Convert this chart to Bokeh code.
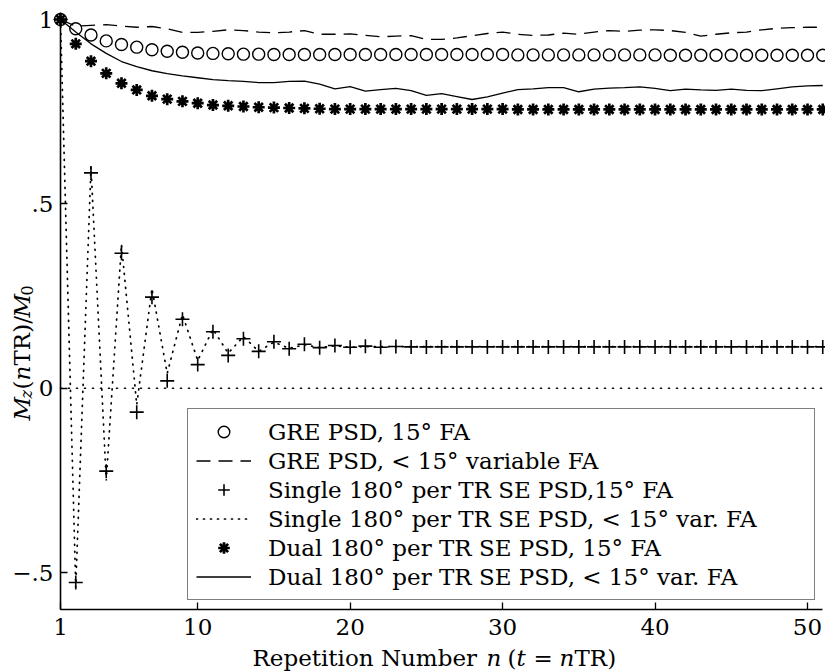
import math
from bokeh.plotting import figure
from bokeh.models import Range1d, FixedTicker, LinearAxis, Legend, LegendItem, Label
from bokeh.embed import file_html
from bokeh.resources import INLINE

# ---------------- data ----------------
rep = list(range(1, 52))

gre_15 = [1.000, 0.975, 0.958, 0.942, 0.932, 0.925, 0.918, 0.914, 0.911, 0.909,
          0.908, 0.907, 0.906, 0.906, 0.905, 0.905, 0.905, 0.905, 0.905, 0.905,
          0.905, 0.905, 0.905, 0.905, 0.905, 0.905, 0.905, 0.905, 0.905, 0.905,
          0.904, 0.904, 0.904, 0.904, 0.904, 0.904, 0.904, 0.904, 0.904, 0.904,
          0.903, 0.903, 0.903, 0.903, 0.903, 0.903, 0.903, 0.903, 0.903, 0.903, 0.903]

gre_var = [1.000, 0.982, 0.984, 0.986, 0.982, 0.979, 0.981, 0.975, 0.965, 0.965,
           0.968, 0.972, 0.970, 0.966, 0.964, 0.966, 0.970, 0.960, 0.960, 0.961,
           0.957, 0.953, 0.955, 0.956, 0.946, 0.946, 0.950, 0.956, 0.962, 0.966,
           0.960, 0.957, 0.958, 0.963, 0.960, 0.966, 0.970, 0.968, 0.971, 0.972,
           0.970, 0.965, 0.955, 0.960, 0.964, 0.966, 0.972, 0.976, 0.978, 0.979, 0.979]

single_15 = [1.000, -0.527, 0.584, -0.225, 0.366, -0.065, 0.247, 0.020, 0.187, 0.064,
             0.153, 0.089, 0.134, 0.100, 0.126, 0.107, 0.119, 0.110, 0.116, 0.111,
             0.114, 0.111, 0.113, 0.112, 0.112, 0.112, 0.112, 0.112, 0.112, 0.112,
             0.112, 0.112, 0.112, 0.112, 0.112, 0.112, 0.112, 0.112, 0.112, 0.112,
             0.112, 0.112, 0.112, 0.112, 0.112, 0.112, 0.112, 0.112, 0.112, 0.112, 0.112]

single_var = [1.000, -0.540, 0.600, -0.250, 0.390, -0.045, 0.270, 0.040, 0.200, 0.075,
              0.160, 0.095, 0.140, 0.100, 0.125, 0.108, 0.118, 0.110, 0.115, 0.111,
              0.113, 0.113, 0.113, 0.113, 0.113, 0.113, 0.113, 0.113, 0.113, 0.113,
              0.113, 0.113, 0.113, 0.113, 0.113, 0.113, 0.113, 0.113, 0.113, 0.113,
              0.113, 0.113, 0.113, 0.113, 0.113, 0.113, 0.113, 0.113, 0.113, 0.113, 0.113]

dual_15 = [1.000, 0.934, 0.887, 0.854, 0.827, 0.809, 0.793, 0.784, 0.778, 0.773,
           0.768, 0.766, 0.764, 0.762, 0.761, 0.760, 0.759, 0.758, 0.757, 0.757,
           0.757, 0.757, 0.757, 0.757, 0.757, 0.757, 0.757, 0.757, 0.757, 0.757,
           0.756, 0.756, 0.756, 0.756, 0.756, 0.756, 0.756, 0.756, 0.756, 0.756,
           0.756, 0.756, 0.756, 0.756, 0.756, 0.756, 0.756, 0.756, 0.756, 0.756, 0.756]

dual_var = [1.000, 0.966, 0.934, 0.908, 0.886, 0.872, 0.861, 0.853, 0.847, 0.842,
            0.837, 0.834, 0.832, 0.829, 0.829, 0.832, 0.833, 0.825, 0.812, 0.818,
            0.806, 0.810, 0.813, 0.807, 0.794, 0.799, 0.791, 0.783, 0.790, 0.800,
            0.810, 0.812, 0.815, 0.815, 0.804, 0.811, 0.814, 0.815, 0.817, 0.813,
            0.807, 0.811, 0.809, 0.808, 0.811, 0.808, 0.807, 0.812, 0.817, 0.820, 0.821]

x_ticks = [1, 10, 20, 30, 40, 50]
y_ticks = [-0.5, 0, 0.5, 1]
y_tick_labels = ["\u2212.5", "0", ".5", "1"]

legend_labels = [
    "GRE PSD, 15\u00b0 FA",
    "GRE PSD, < 15\u00b0 variable FA",
    "Single 180\u00b0 per TR SE PSD,15\u00b0 FA",
    "Single 180\u00b0 per TR SE PSD, < 15\u00b0 var. FA",
    "Dual 180\u00b0 per TR SE PSD, 15\u00b0 FA",
    "Dual 180\u00b0 per TR SE PSD, < 15\u00b0 var. FA",
]

# ---------------- layout (frame = whole canvas) ----------------
FONT = "DejaVu Serif"
FS = "23px"
W, H = 825, 672
X1_PX, X50_PX = 60.0, 807.0
XS = (X50_PX - X1_PX) / 49.0
Y0_PX = 387.7
YS = 368.7
AXIS_B_PX = 609.0


def xd(px):
    return 1 + (px - X1_PX) / XS


def yd(py):
    return (Y0_PX - py) / YS


p = figure(width=W, height=H, x_range=Range1d(xd(0), xd(W)), y_range=Range1d(yd(H), yd(0)),
           output_backend="svg", toolbar_location=None,
           x_axis_location=None, y_axis_location=None,
           min_border_left=0, min_border_right=0, min_border_top=0, min_border_bottom=0)
p.outline_line_color = None
p.xgrid.visible = False
p.ygrid.visible = False
p.background_fill_color = "white"
p.border_fill_color = "white"

xaxis = LinearAxis(ticker=FixedTicker(ticks=x_ticks), fixed_location=yd(AXIS_B_PX),
                   bounds=(rep[0], rep[-1]))
yaxis = LinearAxis(ticker=FixedTicker(ticks=y_ticks), fixed_location=rep[0],
                   bounds=(yd(AXIS_B_PX), 1.0))
yaxis.major_label_overrides = {t: l for t, l in zip(y_ticks, y_tick_labels)}
for ax in (xaxis, yaxis):
    ax.axis_line_width = 1.6
    ax.axis_line_color = "black"
    ax.major_tick_in = 7
    ax.major_tick_out = 0
    ax.major_tick_line_width = 1.3
    ax.minor_tick_in = 0
    ax.minor_tick_out = 0
    ax.major_label_text_font = FONT
    ax.major_label_text_font_size = FS
    ax.major_label_text_color = "black"
xaxis.major_label_standoff = 9
yaxis.major_label_standoff = 7
p.add_layout(xaxis, "below")
p.add_layout(yaxis, "left")

# zero reference line across the data span
p.line([rep[0], rep[-1]], [0, 0], line_color="black", line_dash="1 7", line_cap="round", line_width=1.6)

r_sv = p.line(rep, single_var, line_color="black", line_dash="1 6", line_cap="round", line_width=1.7)
r_gv = p.line(rep, gre_var, line_color="black", line_dash="14 8", line_width=1.3)
r_dv = p.line(rep, dual_var, line_color="black", line_width=1.3)
r_g15 = p.scatter(rep, gre_15, marker="circle", size=12, fill_color=None, line_color="black", line_width=1.4)
r_s15 = p.scatter(rep, single_15, marker="cross", size=14, line_color="black", line_width=1.6)
r_d15 = p.scatter(rep, dual_15, marker="asterisk", size=12, line_color="black", line_width=2.7)

legend = Legend(items=[
    LegendItem(label=legend_labels[0], renderers=[r_g15]),
    LegendItem(label=legend_labels[1], renderers=[r_gv]),
    LegendItem(label=legend_labels[2], renderers=[r_s15]),
    LegendItem(label=legend_labels[3], renderers=[r_sv]),
    LegendItem(label=legend_labels[4], renderers=[r_d15]),
    LegendItem(label=legend_labels[5], renderers=[r_dv]),
], location=(187, H - 600),
    label_text_font=FONT, label_text_font_size=FS, label_text_color="black",
    padding=8, spacing=0, margin=0, glyph_width=55, glyph_height=29, label_height=29,
    label_standoff=17, label_width=538,
    border_line_color="black", border_line_width=1.3,
    background_fill_color="white", background_fill_alpha=1.0)
p.add_layout(legend)


# ---------------- axis titles (mixed upright / italic text) ----------------
def lab(px, py, text, italic=False, size=FS, angle=0.0):
    p.add_layout(Label(x=xd(px), y=yd(py), text=text, text_font=FONT, text_font_size=size,
                       text_font_style="italic" if italic else "normal", text_color="black",
                       text_align="left", text_baseline="alphabetic", angle=angle, angle_units="rad"))


# x axis title: Repetition Number n (t = nTR)
XB = 657
lab(252, XB, "Repetition Number")
lab(486, XB, "n", italic=True)
lab(507, XB, "(")
lab(516, XB, "t", italic=True)
lab(533, XB, "=")
lab(559, XB, "n", italic=True)
lab(574, XB, "TR)")

# y axis title: M_z(nTR)/M_0, rotated
A = math.pi / 2
YB0 = 420
XBL = 21
lab(XBL, YB0, "M", italic=True, angle=A)
lab(XBL + 5, YB0 - 22, "z", italic=True, size="16px", angle=A)
lab(XBL, YB0 - 31, "(", angle=A)
lab(XBL, YB0 - 40, "n", italic=True, angle=A)
lab(XBL, YB0 - 55, "TR)/", angle=A)
lab(XBL, YB0 - 103, "M", italic=True, angle=A)
lab(XBL + 5, YB0 - 125, "0", size="16px", angle=A)

open("out.html", "w").write(file_html(p, INLINE))
